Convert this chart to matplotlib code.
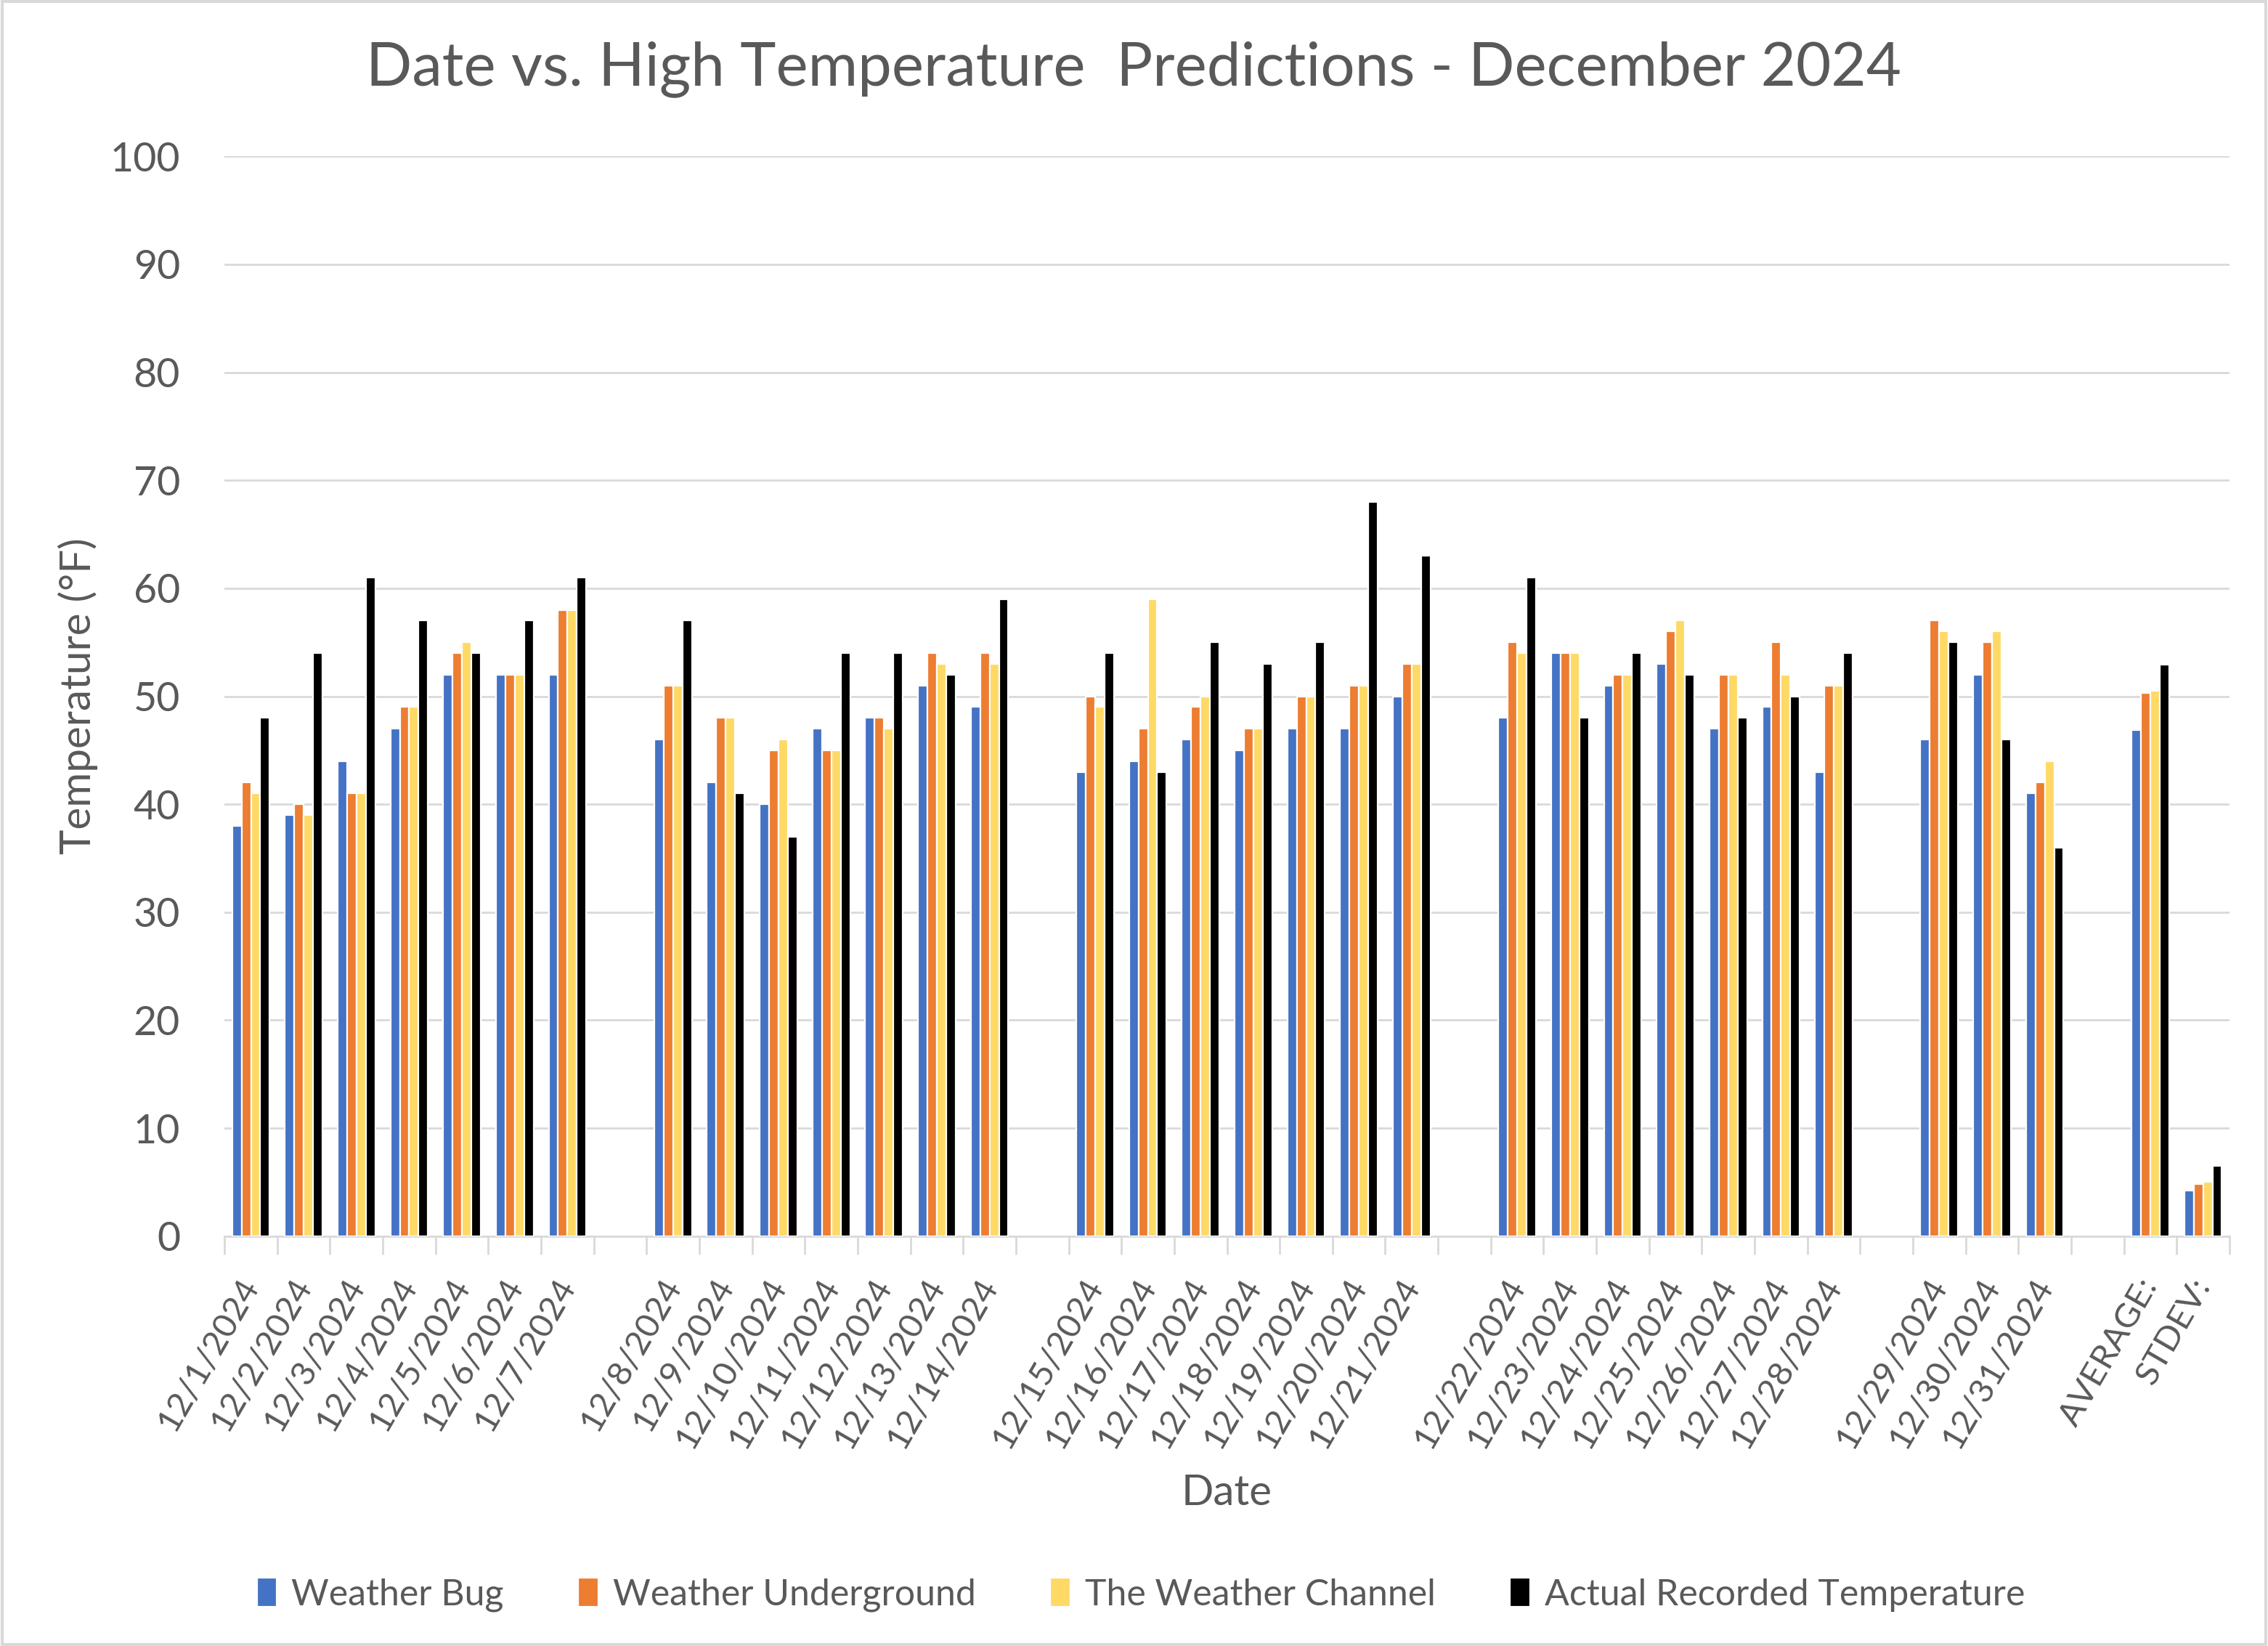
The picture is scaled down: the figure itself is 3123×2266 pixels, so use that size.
import numpy as np
import matplotlib
matplotlib.use("Agg")
import matplotlib.pyplot as plt
from matplotlib.patches import Rectangle

plt.rcParams["font.family"] = ["Lato", "DejaVu Sans"]

TEXT = "#595959"
GRID = "#D9D9D9"

# categories: one blank slot after each week, as in the source sheet
categories = [
    "12/1/2024", "12/2/2024", "12/3/2024", "12/4/2024", "12/5/2024", "12/6/2024", "12/7/2024", "",
    "12/8/2024", "12/9/2024", "12/10/2024", "12/11/2024", "12/12/2024", "12/13/2024", "12/14/2024", "",
    "12/15/2024", "12/16/2024", "12/17/2024", "12/18/2024", "12/19/2024", "12/20/2024", "12/21/2024", "",
    "12/22/2024", "12/23/2024", "12/24/2024", "12/25/2024", "12/26/2024", "12/27/2024", "12/28/2024", "",
    "12/29/2024", "12/30/2024", "12/31/2024", "",
    "AVERAGE:", "STDEV:",
]
nan = np.nan
weather_bug = [38, 39, 44, 47, 52, 52, 52, nan,
               46, 42, 40, 47, 48, 51, 49, nan,
               43, 44, 46, 45, 47, 47, 50, nan,
               48, 54, 51, 53, 47, 49, 43, nan,
               46, 52, 41, nan,
               46.9, 4.2]
weather_underground = [42, 40, 41, 49, 54, 52, 58, nan,
                       51, 48, 45, 45, 48, 54, 54, nan,
                       50, 47, 49, 47, 50, 51, 53, nan,
                       55, 54, 52, 56, 52, 55, 51, nan,
                       57, 55, 42, nan,
                       50.3, 4.8]
weather_channel = [41, 39, 41, 49, 55, 52, 58, nan,
                   51, 48, 46, 45, 47, 53, 53, nan,
                   49, 59, 50, 47, 50, 51, 53, nan,
                   54, 54, 52, 57, 52, 52, 51, nan,
                   56, 56, 44, nan,
                   50.5, 5.0]
actual = [48, 54, 61, 57, 54, 57, 61, nan,
          57, 41, 37, 54, 54, 52, 59, nan,
          54, 43, 55, 53, 55, 68, 63, nan,
          61, 48, 54, 52, 48, 50, 54, nan,
          55, 46, 36, nan,
          52.9, 6.5]

series = [
    ("Weather Bug", weather_bug, "#4472C4"),
    ("Weather Underground", weather_underground, "#ED7D31"),
    ("The Weather Channel", weather_channel, "#FFD966"),
    ("Actual Recorded Temperature", actual, "#000000"),
]

fig = plt.figure(figsize=(15.615, 11.33), dpi=200)
ax = fig.add_axes([0.099, 0.249, 0.884, 0.656])

x = np.arange(len(categories))
slot = 0.178
for i, (name, vals, color) in enumerate(series):
    ax.bar(x + (i - 1.5) * slot, vals, width=slot, color=color,
           edgecolor="white", linewidth=0.8, label=name, zorder=3)

ax.set_xlim(-0.5, len(categories) - 0.5)
ax.set_ylim(0, 100)
ax.set_yticks(range(0, 101, 10))
ax.grid(axis="y", color=GRID, linewidth=1.0, zorder=0)
ax.tick_params(axis="y", length=0, pad=22, labelsize=20, labelcolor=TEXT)

ax.set_xticks(x)
ax.set_xticklabels(categories, rotation=60, ha="right", va="center",
                   rotation_mode="anchor")
ax.set_xticks(np.arange(-0.5, len(categories)), minor=True)
ax.tick_params(axis="x", which="major", length=0, pad=22, labelsize=17, labelcolor=TEXT)
ax.tick_params(axis="x", which="minor", length=9, width=1.0, color=GRID)

for side in ["left", "right", "top"]:
    ax.spines[side].set_visible(False)
ax.spines["bottom"].set_color(GRID)
ax.spines["bottom"].set_linewidth(1.0)

ax.set_ylabel("Temperature (°F)", fontsize=21, color=TEXT)
ax.yaxis.set_label_coords(-0.063, 0.5)
fig.text(0.541, 0.093, "Date", fontsize=21, color=TEXT, ha="center", va="center")
fig.text(0.50, 0.958, "Date vs. High Temperature  Predictions - December 2024",
         fontsize=30, color=TEXT, ha="center", va="center")

leg = fig.legend(loc="center", bbox_to_anchor=(0.503, 0.031), ncol=4, frameon=False,
                 fontsize=18, handlelength=0.55, handleheight=0.85, handletextpad=0.4,
                 columnspacing=2.05)
for t in leg.get_texts():
    t.set_color(TEXT)

fig.patches.append(Rectangle((0.001, 0.001), 0.998, 0.998, transform=fig.transFigure,
                             fill=False, edgecolor=GRID, linewidth=1.5))

fig.savefig("out.png", dpi=200, facecolor="white")
